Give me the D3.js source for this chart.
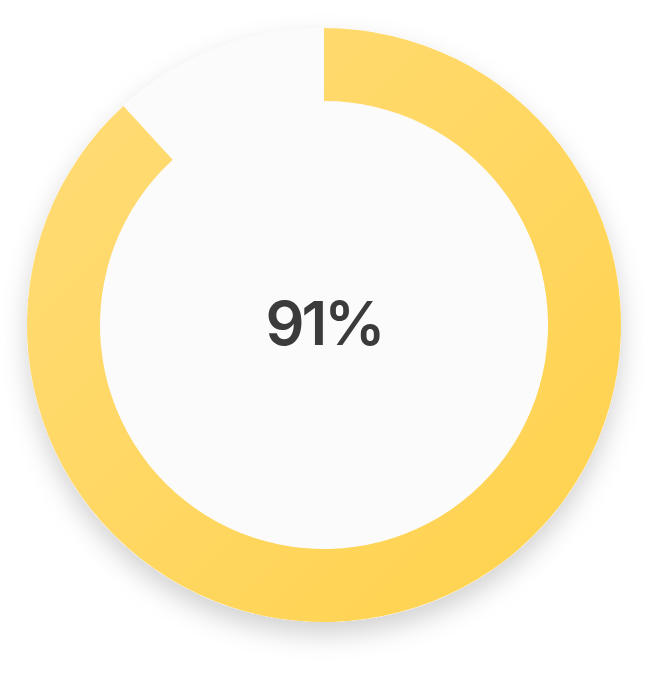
<!DOCTYPE html>
<html>
<head>
<meta charset="utf-8">
<script src="https://cdn.jsdelivr.net/npm/d3@7"></script>
<style>
html,body{margin:0;padding:0;background:#ffffff;}
svg{display:block;}
</style>
</head>
<body>
<svg id="chart" width="648" height="680"></svg>
<script>
// data
const labels = ["91%"];
const values = [91];
const maxValue = 100;
// drawn sweep fraction observed in the reference (arc ends short of the full value sweep)
const sweepScale = 0.9692;

const svg = d3.select("#chart");
const cx = 324, cy = 325;
const outerR = 297, innerR = 224;

const defs = svg.append("defs");
const grad = defs.append("linearGradient").attr("id","yel")
  .attr("x1","0%").attr("y1","0%").attr("x2","100%").attr("y2","100%");
grad.append("stop").attr("offset","0%").attr("stop-color","#ffdc78");
grad.append("stop").attr("offset","100%").attr("stop-color","#ffd24c");

const f = defs.append("filter").attr("id","shadow")
  .attr("x","-20%").attr("y","-20%").attr("width","140%").attr("height","140%");
f.append("feDropShadow").attr("dx",0).attr("dy",12).attr("stdDeviation",13)
  .attr("flood-color","#000").attr("flood-opacity",0.18);

const g = svg.append("g").attr("transform",`translate(${cx},${cy})`);

g.append("circle").attr("r", outerR).attr("fill","#fbfbfb").attr("filter","url(#shadow)");

const angle = d3.scaleLinear().domain([0, maxValue]).range([0, 2*Math.PI*sweepScale]);
const arc = d3.arc().innerRadius(innerR).outerRadius(outerR).startAngle(0);

g.selectAll("path.val").data(values).enter().append("path")
  .attr("class","val")
  .attr("d", d => arc({endAngle: angle(d)}))
  .attr("fill","url(#yel)");

g.selectAll("text.lbl").data(labels).enter().append("text")
  .attr("class","lbl")
  .attr("x",0).attr("y",3)
  .attr("text-anchor","middle").attr("dominant-baseline","middle")
  .attr("font-family","Inter, 'Open Sans', sans-serif")
  .attr("font-weight",600)
  .attr("font-size",61)
  .attr("letter-spacing",-3)
  .attr("fill","#3b3b3b")
  .text(d => d);
</script>
</body>
</html>
